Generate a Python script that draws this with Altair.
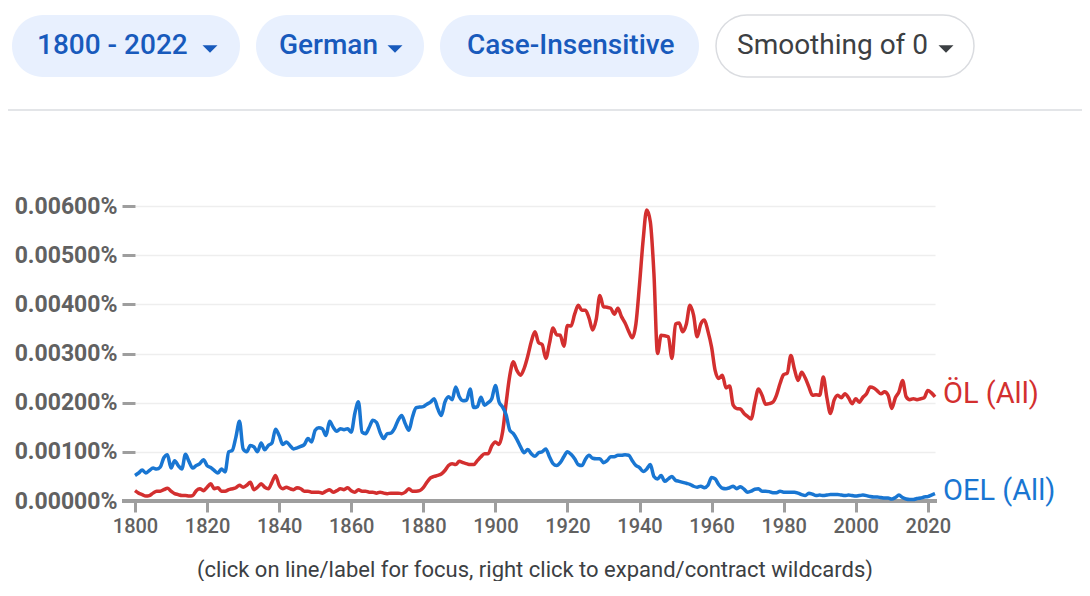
import altair as alt
import pandas as pd

years = list(range(1800, 2023))

ol_values = [
    0.21, 0.16, 0.13, 0.10, 0.11, 0.16, 0.20, 0.20, 0.23, 0.26,
    0.20, 0.15, 0.13, 0.11, 0.11, 0.10, 0.11, 0.21, 0.25, 0.21,
    0.28, 0.35, 0.25, 0.27, 0.20, 0.20, 0.23, 0.25, 0.27, 0.32,
    0.28, 0.32, 0.38, 0.23, 0.28, 0.35, 0.28, 0.25, 0.38, 0.52,
    0.32, 0.25, 0.28, 0.25, 0.23, 0.27, 0.25, 0.20, 0.20, 0.18,
    0.18, 0.18, 0.16, 0.20, 0.23, 0.18, 0.21, 0.25, 0.23, 0.27,
    0.21, 0.18, 0.23, 0.20, 0.20, 0.18, 0.18, 0.16, 0.18, 0.16,
    0.15, 0.16, 0.16, 0.16, 0.15, 0.18, 0.25, 0.20, 0.20, 0.21,
    0.27, 0.38, 0.47, 0.50, 0.52, 0.55, 0.62, 0.72, 0.76, 0.74,
    0.81, 0.78, 0.76, 0.74, 0.74, 0.82, 0.90, 0.96, 0.96, 1.12,
    1.20, 1.15, 1.40, 2.00, 2.55, 2.83, 2.65, 2.56, 2.70, 2.95,
    3.25, 3.44, 3.22, 3.18, 2.90, 3.20, 3.52, 3.38, 3.37, 3.15,
    3.57, 3.56, 3.80, 3.98, 3.88, 3.88, 3.72, 3.48, 3.70, 4.18,
    3.95, 3.94, 3.92, 3.80, 3.92, 3.75, 3.62, 3.45, 3.32, 3.60,
    4.40, 5.30, 5.92, 5.68, 4.63, 3.00, 3.37, 3.36, 3.34, 2.90,
    3.60, 3.62, 3.44, 3.60, 3.98, 3.78, 3.34, 3.60, 3.68, 3.45,
    3.13, 2.65, 2.49, 2.56, 2.30, 2.34, 1.95, 1.88, 1.87, 1.78,
    1.72, 1.67, 2.00, 2.28, 2.15, 1.97, 1.98, 2.01, 2.15, 2.39,
    2.57, 2.60, 2.96, 2.68, 2.45, 2.62, 2.50, 2.32, 2.15, 2.16,
    2.15, 2.52, 2.10, 1.78, 2.05, 2.15, 2.10, 2.18, 2.10, 1.98,
    2.08, 2.01, 2.11, 2.18, 2.32, 2.30, 2.24, 2.18, 2.22, 2.15,
    1.88, 2.10, 2.22, 2.45, 2.12, 2.06, 2.08, 2.06, 2.08, 2.10,
    2.25, 2.20, 2.12,
]

oel_values = [
    0.52, 0.57, 0.63, 0.57, 0.62, 0.67, 0.65, 0.69, 0.88, 0.94,
    0.67, 0.82, 0.72, 0.65, 0.95, 0.80, 0.67, 0.72, 0.76, 0.84,
    0.72, 0.68, 0.62, 0.57, 0.65, 0.59, 1.00, 1.03, 1.30, 1.62,
    1.06, 1.00, 1.13, 1.10, 1.00, 1.18, 1.04, 1.13, 1.18, 1.46,
    1.33, 1.15, 1.20, 1.13, 1.06, 1.08, 1.11, 1.15, 1.27, 1.20,
    1.44, 1.49, 1.47, 1.33, 1.62, 1.50, 1.42, 1.47, 1.45, 1.47,
    1.40, 1.78, 2.02, 1.40, 1.37, 1.50, 1.64, 1.60, 1.40, 1.27,
    1.37, 1.38, 1.47, 1.64, 1.74, 1.57, 1.44, 1.71, 1.90, 1.91,
    1.92, 1.97, 2.01, 2.08, 1.88, 1.74, 2.01, 2.12, 2.06, 2.32,
    2.12, 2.04, 2.05, 2.28, 1.90, 1.92, 2.11, 1.95, 2.00, 2.08,
    2.35, 2.02, 1.91, 1.75, 1.44, 1.37, 1.25, 1.10, 0.98, 1.05,
    0.96, 0.91, 0.98, 1.00, 1.06, 0.90, 0.76, 0.72, 0.78, 0.90,
    1.00, 0.95, 0.86, 0.74, 0.72, 0.85, 0.93, 0.87, 0.86, 0.86,
    0.78, 0.82, 0.90, 0.90, 0.93, 0.93, 0.94, 0.93, 0.82, 0.72,
    0.68, 0.60, 0.65, 0.74, 0.50, 0.45, 0.52, 0.40, 0.45, 0.50,
    0.42, 0.40, 0.38, 0.36, 0.34, 0.30, 0.28, 0.30, 0.27, 0.32,
    0.48, 0.45, 0.33, 0.26, 0.25, 0.27, 0.30, 0.25, 0.29, 0.24,
    0.18, 0.20, 0.24, 0.25, 0.20, 0.20, 0.19, 0.17, 0.17, 0.20,
    0.18, 0.18, 0.18, 0.18, 0.16, 0.13, 0.11, 0.16, 0.14, 0.11,
    0.12, 0.11, 0.12, 0.13, 0.13, 0.13, 0.12, 0.11, 0.12, 0.11,
    0.10, 0.11, 0.12, 0.11, 0.09, 0.08, 0.08, 0.07, 0.06, 0.06,
    0.04, 0.07, 0.12, 0.07, 0.04, 0.03, 0.03, 0.05, 0.06, 0.08,
    0.09, 0.12, 0.15,
]

series_names = ["ÖL (All)", "OEL (All)"]
series_colors = ["#d32f2f", "#1976d2"]
y_ticks = [0, 1, 2, 3, 4, 5, 6]
x_ticks = list(range(1800, 2021, 20))
pill_labels = ["1800 - 2022", "German", "Case-Insensitive", "Smoothing of 0"]
caption_text = "(click on line/label for focus, right click to expand/contract wildcards)"

rows = []
for name, vals in zip(series_names, [ol_values, oel_values]):
    for yr, v in zip(years, vals):
        rows.append({"year": yr, "value": v, "series": name})
df = pd.DataFrame(rows)
ends = df[df["year"] == years[-1]]
one = pd.DataFrame({"k": [0]})

FONT = "Roboto"
GREY = "#9e9e9e"

x_enc = alt.X(
    "year:Q",
    scale=alt.Scale(domain=[1800, 2022], nice=False, zero=False),
    axis=alt.Axis(
        values=x_ticks, format="d", title=None, grid=False, domain=False,
        tickSize=11, tickWidth=3, tickColor=GREY, labelFlush=False,
        labelOverlap=False,
        labelFont=FONT, labelFontSize=20, labelFontWeight=500,
        labelColor="#616161", labelPadding=4,
    ),
)
y_enc = alt.Y(
    "value:Q",
    scale=alt.Scale(domain=[0, 6], nice=False),
    axis=alt.Axis(
        values=y_ticks, title=None, grid=True, gridColor="#eeeeee", gridWidth=1.5,
        domain=False, tickSize=13, tickWidth=3, tickColor=GREY, labelFlush=False,
        labelFont=FONT, labelFontSize=23, labelFontWeight="bold",
        labelColor="#616161", labelPadding=5,
        labelExpr="format(datum.value / 1000, '.5f') + '%'",
    ),
)
color_enc = alt.Color(
    "series:N",
    scale=alt.Scale(domain=series_names, range=series_colors),
    legend=None,
)

axis_line = alt.Chart(one).mark_rule(color=GREY, strokeWidth=4).encode(
    x=alt.value(-13), x2=alt.value(802), y=alt.value(295)
)

lines = alt.Chart(df).mark_line(interpolate="monotone", strokeWidth=3.5).encode(
    x=x_enc, y=y_enc, color=color_enc
)

end_labels = alt.Chart(ends).mark_text(
    align="left", baseline="middle", dx=8, dy=-3, fontSize=29, font=FONT
).encode(
    x=x_enc,
    y=y_enc,
    text="series:N",
    color=color_enc,
)

separator = alt.Chart(one).mark_rule(color="#dadce0", strokeWidth=1.5).encode(
    x=alt.value(-127), x2=alt.value(947), y=alt.value(-96)
)

caption = alt.Chart(one).mark_text(
    text=caption_text, font=FONT, fontSize=22, color="#3c4043",
    align="center", baseline="middle",
).encode(x=alt.value(400), y=alt.value(364))

TRI = "M-1,-0.5L1,-0.5L0,0.5Z"


def pill(label, x1, x2, text_x, tri_x, filled=True):
    layers = []
    if filled:
        bg = alt.Chart(one).mark_rect(cornerRadius=31, color="#e8f0fe").encode(
            x=alt.value(x1), x2=alt.value(x2), y=alt.value(-191), y2=alt.value(-129)
        )
        txt_color = "#185abc"
        weight = 500
    else:
        bg = alt.Chart(one).mark_rect(
            cornerRadius=31, fill="#ffffff", stroke="#dadce0", strokeWidth=1.5
        ).encode(
            x=alt.value(x1), x2=alt.value(x2), y=alt.value(-191), y2=alt.value(-129)
        )
        txt_color = "#3c4043"
        weight = "normal"
    layers.append(bg)
    layers.append(
        alt.Chart(one).mark_text(
            text=label, font=FONT, fontSize=28, fontWeight=weight, color=txt_color,
            align="left", baseline="middle",
        ).encode(x=alt.value(text_x), y=alt.value(-160))
    )
    if tri_x is not None:
        layers.append(
            alt.Chart(one).mark_point(
                shape=TRI, size=225, filled=True, color=txt_color, opacity=1
            ).encode(x=alt.value(tri_x), y=alt.value(-157))
        )
    return layers


pill_layers = []
pill_layers += pill(pill_labels[0], -123, 105, -98, 75, True)
pill_layers += pill(pill_labels[1], 121, 289, 144, 260, True)
pill_layers += pill(pill_labels[2], 305, 564, 332, None, True)
pill_layers += pill(pill_labels[3], 581, 839, 602, 811, False)

chart = alt.layer(
    axis_line, lines, end_labels, separator, caption, *pill_layers
).properties(
    width=800,
    height=295,
    autosize=alt.AutoSizeParams(type="none"),
    padding={"left": 127, "top": 198, "right": 147, "bottom": 80},
).configure_view(stroke=None)

chart.save("out.html", embed_options={"renderer": "svg", "actions": False})
